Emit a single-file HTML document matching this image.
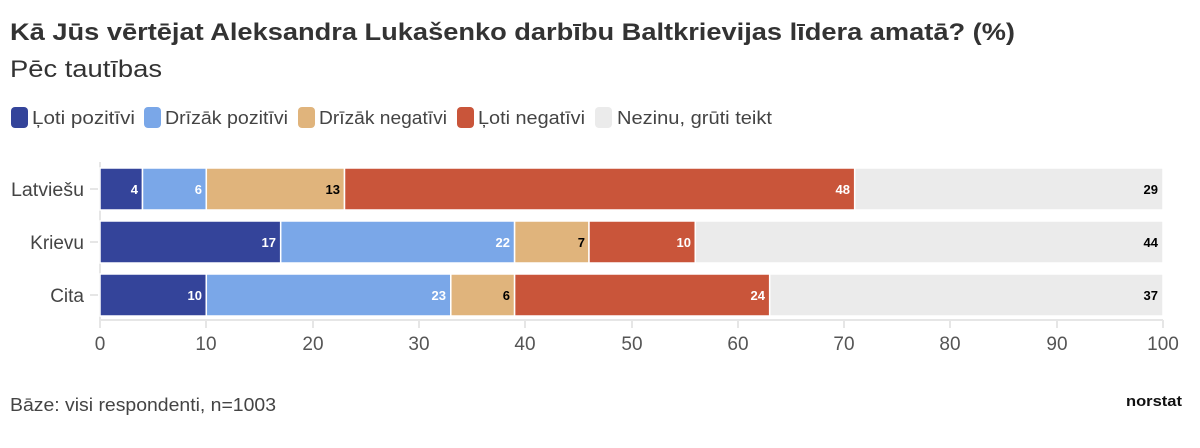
<!DOCTYPE html>
<html><head><meta charset="utf-8"><style>
body{margin:0;background:#fff;width:1200px;height:443px;overflow:hidden;font-family:"Liberation Sans",sans-serif}
</style></head><body>
<svg width="1200" height="443" xmlns="http://www.w3.org/2000/svg" font-family="Liberation Sans, sans-serif">
<text x="10" y="40" font-size="24" font-weight="bold" fill="#333" textLength="1005" lengthAdjust="spacingAndGlyphs">Kā Jūs vērtējat Aleksandra Lukašenko darbību Baltkrievijas līdera amatā? (%)</text>
<text x="10" y="77" font-size="24" fill="#333" textLength="152" lengthAdjust="spacingAndGlyphs">Pēc tautības</text>
<g font-size="18" fill="#444">
<rect x="11" y="107" width="17" height="21" rx="4" fill="#34449a"/><text x="32" y="124" textLength="103" lengthAdjust="spacingAndGlyphs">Ļoti pozitīvi</text>
<rect x="144" y="107" width="17" height="21" rx="4" fill="#7aa7e8"/><text x="165" y="124" textLength="123" lengthAdjust="spacingAndGlyphs">Drīzāk pozitīvi</text>
<rect x="298" y="107" width="17" height="21" rx="4" fill="#e0b47c"/><text x="319" y="124" textLength="128" lengthAdjust="spacingAndGlyphs">Drīzāk negatīvi</text>
<rect x="457" y="107" width="17" height="21" rx="4" fill="#c9553a"/><text x="478" y="124" textLength="107" lengthAdjust="spacingAndGlyphs">Ļoti negatīvi</text>
<rect x="595" y="107" width="17" height="21" rx="4" fill="#ebebeb"/><text x="617" y="124" textLength="155" lengthAdjust="spacingAndGlyphs">Nezinu, grūti teikt</text>
</g>
<g stroke="#e6e6e6" stroke-width="2">
<line x1="100" y1="320" x2="1163" y2="320"/>
<line x1="100" y1="162" x2="100" y2="328"/>
<line x1="206" y1="320" x2="206" y2="328"/><line x1="313" y1="320" x2="313" y2="328"/><line x1="419" y1="320" x2="419" y2="328"/><line x1="525" y1="320" x2="525" y2="328"/><line x1="632" y1="320" x2="632" y2="328"/><line x1="738" y1="320" x2="738" y2="328"/><line x1="844" y1="320" x2="844" y2="328"/><line x1="950" y1="320" x2="950" y2="328"/><line x1="1057" y1="320" x2="1057" y2="328"/><line x1="1163" y1="320" x2="1163" y2="328"/>
<line x1="90" y1="189" x2="98" y2="189"/><line x1="90" y1="242" x2="98" y2="242"/><line x1="90" y1="295" x2="98" y2="295"/>
</g>
<g font-size="19" fill="#555" text-anchor="middle">
<text x="100" y="350">0</text><text x="206" y="350">10</text><text x="313" y="350">20</text><text x="419" y="350">30</text><text x="525" y="350">40</text><text x="632" y="350">50</text><text x="738" y="350">60</text><text x="844" y="350">70</text><text x="950" y="350">80</text><text x="1057" y="350">90</text><text x="1163" y="350">100</text>
</g>
<g font-size="19" fill="#444" text-anchor="end">
<text x="84" y="196" textLength="73" lengthAdjust="spacingAndGlyphs">Latviešu</text><text x="84" y="249">Krievu</text><text x="84" y="302">Cita</text>
</g>
<g stroke="#fff" stroke-width="1.5">
<rect x="100" y="168" width="42.5" height="42" fill="#34449a"/>
<rect x="142.5" y="168" width="63.8" height="42" fill="#7aa7e8"/>
<rect x="206.3" y="168" width="138.2" height="42" fill="#e0b47c"/>
<rect x="344.5" y="168" width="510.2" height="42" fill="#c9553a"/>
<rect x="854.7" y="168" width="308.3" height="42" fill="#ebebeb"/>
<rect x="100" y="221" width="180.7" height="42" fill="#34449a"/>
<rect x="280.7" y="221" width="233.9" height="42" fill="#7aa7e8"/>
<rect x="514.6" y="221" width="74.4" height="42" fill="#e0b47c"/>
<rect x="589" y="221" width="106.3" height="42" fill="#c9553a"/>
<rect x="695.3" y="221" width="467.7" height="42" fill="#ebebeb"/>
<rect x="100" y="274" width="106.3" height="42" fill="#34449a"/>
<rect x="206.3" y="274" width="244.5" height="42" fill="#7aa7e8"/>
<rect x="450.8" y="274" width="63.8" height="42" fill="#e0b47c"/>
<rect x="514.6" y="274" width="255.1" height="42" fill="#c9553a"/>
<rect x="769.7" y="274" width="393.3" height="42" fill="#ebebeb"/>
</g>
<g font-size="13" font-weight="bold" text-anchor="end">
<text x="138" y="194" fill="#fff">4</text><text x="202" y="194" fill="#fff">6</text><text x="340" y="194" fill="#000">13</text><text x="850" y="194" fill="#fff">48</text><text x="1158" y="194" fill="#000">29</text>
<text x="276" y="247" fill="#fff">17</text><text x="510" y="247" fill="#fff">22</text><text x="585" y="247" fill="#000">7</text><text x="691" y="247" fill="#fff">10</text><text x="1158" y="247" fill="#000">44</text>
<text x="202" y="300" fill="#fff">10</text><text x="446" y="300" fill="#fff">23</text><text x="510" y="300" fill="#000">6</text><text x="765" y="300" fill="#fff">24</text><text x="1158" y="300" fill="#000">37</text>
</g>
<text x="10" y="411" font-size="18" fill="#444" textLength="266" lengthAdjust="spacingAndGlyphs">Bāze: visi respondenti, n=1003</text>
<text x="1182" y="406" font-size="15" font-weight="bold" fill="#111" text-anchor="end" textLength="56" lengthAdjust="spacingAndGlyphs">norstat</text>
</svg>
</body></html>
